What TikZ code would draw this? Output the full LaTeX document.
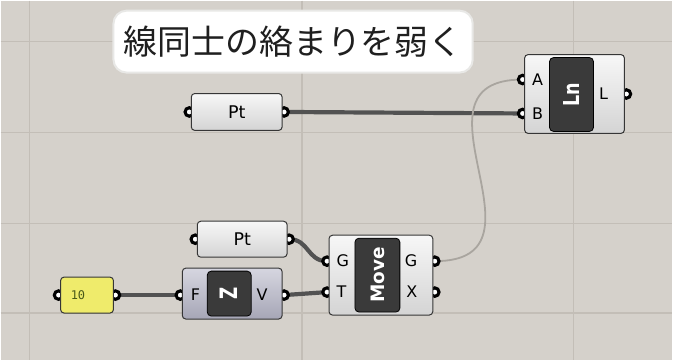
\documentclass[tikz,border=0pt]{standalone}
\usepackage{fontspec}
\setmainfont{DejaVu Sans}
\newfontfamily\jpfont{Noto Sans CJK JP}
\newfontfamily\numfont{DejaVu Sans Mono}
\usepackage{tikz}
\usetikzlibrary{positioning,backgrounds}
\definecolor{ghcanvas}{HTML}{D5D1CB}
\definecolor{ghgrid}{HTML}{C3BEB7}
\definecolor{ghedge}{HTML}{363636}
\definecolor{ghtop}{HTML}{F7F7F7}
\definecolor{ghbot}{HTML}{D4D4D4}
\definecolor{ghicon}{HTML}{3A3A3A}
\definecolor{ghiconhi}{HTML}{7C7C7C}
\definecolor{ghwire}{HTML}{525252}
\definecolor{ghwirelt}{HTML}{A9A59F}
\definecolor{ghzt}{HTML}{D6D6E0}
\definecolor{ghzb}{HTML}{A6A6B6}
\definecolor{ghslider}{HTML}{EFEB6B}
\definecolor{ghnum}{HTML}{4A5A1A}
\definecolor{ghnote}{HTML}{E8E8E6}
\pgfdeclareverticalshading{ghiconshade}{100bp}{color(0bp)=(ghicon); color(80bp)=(ghicon); color(93bp)=(ghiconhi); color(100bp)=(ghiconhi)}
\pgfdeclarelayer{wires}
\pgfdeclarelayer{ports}
\pgfsetlayers{background,wires,ports,main}

\begin{document}
\begin{tikzpicture}[
  x=1pt,y=-1pt,
  note/.style={fill=white,draw=ghnote,line width=2pt,rounded corners=13pt,minimum width=360pt,minimum height=62pt,font=\jpfont\fontsize{34}{36}\selectfont,text=black!88},
  comp/.style={draw=ghedge,line width=1pt,rounded corners=3.5pt,top color=ghtop,bottom color=ghbot,inner sep=0pt},
  param/.style={comp,font=\fontsize{17.5}{19}\selectfont},
  icon/.style={draw=black,line width=0.8pt,rounded corners=4pt,shading=ghiconshade,text=white,inner sep=0pt,font=\bfseries\fontsize{18.5}{19}\selectfont},
  slider/.style={draw=ghedge,line width=1pt,rounded corners=3.5pt,fill=ghslider,inner sep=0pt},
  port/.style={circle,draw=black,line width=3.1pt,fill=white,inner sep=0pt,minimum size=8.5pt},
  inport/.style={port,xshift=-1.5pt},
  outport/.style={port,xshift=1.5pt},
  lbl/.style={inner sep=0pt,font=\fontsize{16}{18}\selectfont},
  wire/.style={draw=ghwire,line width=4.2pt},
  faintwire/.style={draw=ghwirelt,line width=1.8pt},
  gridline/.style={draw=ghgrid,line width=1.4pt}
]
\begin{scope}[on background layer]
\fill[ghcanvas] (0,0) rectangle (673,360);
\foreach \gx in {29,302,574} \draw[gridline] (\gx,0) -- (\gx,360);
\foreach \gy in {41,132,223,313} \draw[gridline] (0,\gy) -- (673,\gy);
\end{scope}
\useasboundingbox (0,0) rectangle (673,360);

\node[note] (title) at (293,41) {線同士の絡まりを弱く};

\node[param,minimum width=91pt,minimum height=37pt] (pta) at (236.5,111.5) {Pt};
\node[param,minimum width=90pt,minimum height=36pt] (ptb) at (242,239) {Pt};
\node[comp,minimum width=100pt,minimum height=79pt] (ln) at (575,93.5) {};
\node[icon,minimum width=44pt,minimum height=74pt,font=\bfseries\fontsize{22}{22}\selectfont] (lnic) at (572,94) {\rotatebox{90}{\scalebox{0.8}[1]{Ln}}};
\node[comp,minimum width=104pt,minimum height=80pt] (mv) at (381,275) {};
\node[icon,minimum width=45pt,minimum height=74pt] (mvic) at (377.5,275) {\rotatebox{90}{Move}};
\node[comp,top color=ghzt,bottom color=ghzb,minimum width=100pt,minimum height=51pt] (uz) at (232,293.5) {};
\node[icon,minimum width=44pt,minimum height=45pt,font=\bfseries\fontsize{24}{24}\selectfont] (uzic) at (229,293.5) {\rotatebox{90}{\scalebox{0.7}[1]{Z}}};
\node[slider,minimum width=53pt,minimum height=36pt] (num) at (86.5,295) {};
\node[inner sep=0pt,anchor=west,font=\numfont\fontsize{12}{12}\selectfont,text=ghnum] (numval) at ([xshift=10.5pt]num.west) {10};

\begin{pgfonlayer}{ports}
\node[inport] (ptai) at (pta.west) {};
\node[outport] (ptao) at (pta.east) {};
\node[inport] (ptbi) at (ptb.west) {};
\node[outport] (ptbo) at (ptb.east) {};
\node[inport] (lna) at ([yshift=14.5pt]ln.west) {};
\node[inport] (lnb) at ([yshift=-19.5pt]ln.west) {};
\node[outport] (lnl) at (ln.east) {};
\node[inport] (mvg) at ([yshift=14pt]mv.west) {};
\node[inport] (mvt) at ([yshift=-17pt]mv.west) {};
\node[outport] (mvgo) at ([yshift=14pt]mv.east) {};
\node[outport] (mvx) at ([yshift=-17pt]mv.east) {};
\node[inport] (uzf) at ([yshift=-1.5pt]uz.west) {};
\node[outport] (uzv) at ([yshift=-1.5pt]uz.east) {};
\node[inport] (numi) at (num.west) {};
\node[outport] (numo) at (num.east) {};
\end{pgfonlayer}

\node[lbl,right=3.5pt of lna] (lbla) {A};
\node[lbl,right=3.5pt of lnb] (lblb) {B};
\node[lbl,left=12.5pt of lnl] (lbll) {L};
\node[lbl,right=3.5pt of mvg] (lblg) {G};
\node[lbl,right=3.5pt of mvt] (lblt) {T};
\node[lbl,left=11.5pt of mvgo] (lblgo) {G};
\node[lbl,left=11.5pt of mvx] (lblx) {X};
\node[lbl,right=4.5pt of uzf] (lblf) {F};
\node[lbl,left=10.5pt of uzv] (lblv) {V};

\begin{pgfonlayer}{wires}
\draw[wire] (ptao.center) -- (lnb.center);
\draw[wire] (ptbo.center) .. controls +(20,0) and +(-20,0) .. (mvg.center);
\draw[wire] (numo.center) -- (uzf.center);
\draw[wire] (uzv.center) -- (mvt.center);
\draw[faintwire] (mvgo.center) .. controls +(125,0) and +(-125,0) .. (lna.center);
\end{pgfonlayer}
\end{tikzpicture}
\end{document}
